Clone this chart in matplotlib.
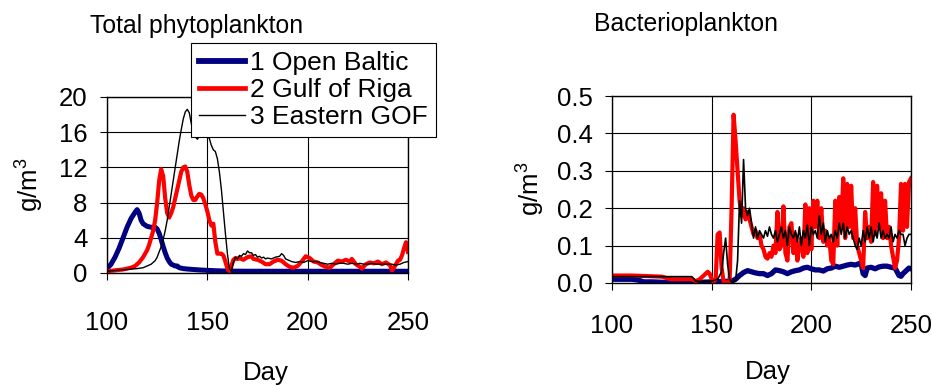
import numpy as np
import matplotlib
matplotlib.use("Agg")
import matplotlib.pyplot as plt

plt.rcParams['font.family'] = ['Liberation Sans', 'DejaVu Sans']
plt.rcParams['mathtext.fontset'] = 'custom'
plt.rcParams['mathtext.rm'] = 'Liberation Sans'
plt.rcParams['mathtext.it'] = 'Liberation Sans'

# --- Total phytoplankton (g/m3) ---
phy_baltic_day = [100, 102, 104, 106, 108, 110, 112, 114, 115, 116, 117, 118, 120, 122, 124, 125,
                  126, 127, 128, 129, 130, 131, 132, 134, 135, 136, 138, 140, 143, 146, 150, 155,
                  160, 170, 180, 200, 220, 250]
phy_baltic = [0.5, 1.0, 1.8, 2.8, 4.0, 5.2, 6.2, 6.9, 7.2, 6.8, 6.0, 5.6, 5.3, 5.2, 5.2, 5.0,
              4.5, 3.8, 3.0, 2.3, 1.7, 1.3, 1.0, 0.8, 0.8, 0.6, 0.5, 0.45, 0.4, 0.35, 0.3, 0.25,
              0.22, 0.2, 0.2, 0.2, 0.2, 0.2]

phy_riga_day = [100, 104, 108, 112, 114, 116, 118, 120, 121, 122, 123, 124, 125, 126, 127, 128,
                129, 130, 131, 132, 133, 134, 135, 136, 137, 138, 139, 140, 141, 142, 143, 144,
                145, 146, 147, 148, 149, 150, 151, 152, 153, 154, 155, 156, 157, 158, 159, 160,
                161, 162, 163, 164, 165, 166, 168, 170, 172, 173, 175, 177, 179, 181, 183, 185,
                187, 189, 191, 193, 195, 197, 199, 201, 203, 205, 207, 209, 211, 213, 215, 217,
                219, 221, 222, 224, 226, 227, 229, 231, 233, 235, 237, 239, 241, 242, 243, 245,
                246, 247, 248, 249, 250]
phy_riga = [0.2, 0.3, 0.4, 0.6, 0.8, 1.2, 1.8, 2.6, 3.2, 4.0, 4.8, 6.0, 8.0, 10.5, 11.8, 11.0,
            8.5, 6.8, 6.3, 6.8, 7.5, 8.5, 9.5, 10.5, 11.5, 12.0, 12.1, 11.5, 10.0, 8.8, 8.3, 8.3,
            8.7, 9.0, 8.9, 8.5, 7.8, 7.0, 6.0, 5.4, 5.6, 3.5, 2.2, 2.2, 2.2, 2.0, 1.3, 0.5,
            0.2, 0.8, 1.5, 1.7, 1.6, 1.7, 1.5, 1.8, 1.9, 1.6, 1.5, 1.3, 1.0, 1.0, 1.3, 1.5,
            1.4, 1.0, 0.7, 0.6, 0.8, 1.3, 1.9, 1.7, 1.3, 1.2, 0.9, 0.7, 0.6, 1.0, 1.4, 1.3,
            1.5, 1.3, 1.6, 1.0, 0.7, 0.5, 1.0, 1.2, 1.1, 1.3, 1.0, 1.2, 0.9, 0.3, 0.6, 1.4,
            1.5, 2.0, 2.8, 3.5, 2.4]

phy_gof_day = [100, 105, 110, 115, 118, 120, 122, 124, 125, 126, 127, 128, 129, 130, 131, 132,
               133, 134, 135, 136, 137, 138, 139, 140, 141, 142, 143, 144, 145, 146, 147, 148,
               149, 150, 151, 152, 153, 154, 155, 156, 157, 158, 159, 160, 161, 162, 163, 164,
               165, 166, 167, 168, 169, 170, 171, 172, 173, 174, 175, 176, 177, 178, 179, 180,
               182, 184, 186, 187, 188, 189, 190, 192, 194, 196, 198, 200, 202, 204, 206, 208,
               210, 212, 214, 216, 218, 220, 222, 224, 226, 228, 230, 232, 234, 236, 238, 240,
               242, 244, 246, 248, 250]
phy_gof = [0.2, 0.3, 0.4, 0.5, 0.6, 0.8, 1.0, 1.4, 1.8, 2.4, 3.0, 3.8, 4.8, 6.0, 7.5, 9.0,
           10.5, 12.0, 13.5, 15.0, 16.3, 17.5, 18.3, 18.6, 18.2, 17.0, 16.0, 15.5, 15.2, 15.5, 15.5, 15.5,
           15.7, 15.5, 15.3, 14.5, 14.0, 13.8, 13.0, 11.5, 9.5, 7.0, 4.5, 2.2, 0.5, 0.2, 1.2, 1.8,
           1.6, 2.0, 1.9, 2.2, 2.1, 2.5, 2.3, 2.3, 2.0, 2.1, 1.8, 1.9, 1.7, 1.8, 1.6, 1.7,
           1.6, 1.8, 1.9, 2.2, 2.0, 1.6, 1.5, 1.3, 1.2, 1.3, 1.2, 1.4, 1.3, 1.3, 1.2, 1.1,
           1.0, 1.1, 1.0, 1.1, 1.1, 1.0, 1.1, 1.0, 1.1, 1.0, 1.0, 1.1, 1.0, 1.0, 1.0, 1.0,
           1.0, 0.9, 1.0, 1.2, 1.3]

# --- Bacterioplankton (g/m3) ---
bac_baltic_day = [100, 105, 110, 113, 116, 120, 125, 128, 130, 135, 140, 145, 150, 155, 160, 162,
                  164, 166, 168, 170, 172, 174, 176, 178, 180, 182, 184, 186, 188, 190, 192, 194,
                  196, 198, 200, 202, 204, 206, 208, 210, 212, 214, 216, 218, 220, 222, 224, 225,
                  226, 227, 228, 230, 232, 234, 236, 238, 240, 242, 243, 244, 245, 246, 247, 248,
                  249, 250]
bac_baltic = [0.01, 0.01, 0.01, 0.008, 0.003, 0.003, 0.002, 0.001, 0.003, 0.002, 0.003, 0.002, 0.003, 0.004, 0.005, 0.01,
              0.02, 0.028, 0.033, 0.03, 0.027, 0.025, 0.025, 0.02, 0.025, 0.035, 0.033, 0.03, 0.025, 0.03, 0.033, 0.035,
              0.04, 0.042, 0.038, 0.035, 0.035, 0.032, 0.038, 0.04, 0.045, 0.042, 0.045, 0.048, 0.05, 0.048, 0.052, 0.05,
              0.025, 0.02, 0.04, 0.042, 0.038, 0.043, 0.045, 0.045, 0.042, 0.04, 0.03, 0.02, 0.018, 0.025, 0.03, 0.035,
              0.04, 0.038]

bac_riga_day = [100, 105, 110, 115, 120, 125, 128, 130, 135, 140, 142, 144, 146, 148] + list(range(149, 251))
bac_riga = [0.02, 0.02, 0.02, 0.019, 0.018, 0.017, 0.012, 0.01, 0.01, 0.01, 0.005, 0.01, 0.02, 0.03,
            0.025, 0.01, 0.002, 0.01, 0.13, 0.135, 0.04, 0.003, 0.0, 0.002, 0.003, 0.2,
            0.45, 0.38, 0.3, 0.22, 0.18, 0.2, 0.17, 0.19, 0.17, 0.15, 0.13, 0.14, 0.12, 0.13,
            0.1, 0.09, 0.07, 0.065, 0.08, 0.07, 0.1, 0.08, 0.19, 0.09, 0.1, 0.205, 0.08, 0.06,
            0.15, 0.16, 0.08, 0.13, 0.06, 0.1, 0.12, 0.07, 0.21, 0.08, 0.2, 0.09, 0.22, 0.15,
            0.22, 0.12, 0.2, 0.11, 0.14, 0.1, 0.12, 0.06, 0.05, 0.22, 0.1, 0.23, 0.15, 0.28,
            0.12, 0.265, 0.15, 0.26, 0.12, 0.2, 0.1, 0.08, 0.06, 0.04, 0.19, 0.12, 0.15, 0.11,
            0.27, 0.13, 0.26, 0.15, 0.24, 0.12, 0.22, 0.12, 0.15, 0.1, 0.07, 0.04, 0.06, 0.12,
            0.265, 0.14, 0.265, 0.15, 0.27, 0.28]

bac_gof_day = [100, 110, 120, 130, 140, 141, 142, 145, 150, 153] + list(range(155, 251))
bac_gof = [0.017, 0.017, 0.017, 0.017, 0.017, 0.012, 0.005, 0.004, 0.005, 0.01,
           0.03, 0.08, 0.12, 0.05, 0.01, 0.003, 0.003, 0.005, 0.06, 0.22, 0.16, 0.33,
           0.2, 0.18, 0.2, 0.16, 0.12, 0.15, 0.12, 0.14, 0.13, 0.12, 0.14, 0.125, 0.15, 0.13,
           0.12, 0.14, 0.11, 0.13, 0.15, 0.12, 0.14, 0.1, 0.15, 0.13, 0.12, 0.14, 0.11, 0.15,
           0.1, 0.14, 0.12, 0.155, 0.1, 0.15, 0.13, 0.14, 0.12, 0.18, 0.13, 0.16, 0.11, 0.14,
           0.12, 0.13, 0.11, 0.14, 0.12, 0.16, 0.13, 0.16, 0.12, 0.15, 0.13, 0.14, 0.12, 0.1,
           0.09, 0.12, 0.1, 0.14, 0.11, 0.15, 0.12, 0.15, 0.11, 0.14, 0.12, 0.16, 0.12, 0.14,
           0.12, 0.13, 0.12, 0.15, 0.11, 0.13, 0.12, 0.14, 0.13, 0.13, 0.1, 0.12, 0.13, 0.13]

labels = ['1 Open Baltic', '2 Gulf of Riga', '3 Eastern GOF']
colors = ['#000080', '#ff0000', '#000000']
widths = [3.6, 3.0, 1.0]

W, H = 932, 385
fig = plt.figure(figsize=(W / 100, H / 100), dpi=100)

def px_axes(x0, x1, ytop, ybot):
    return fig.add_axes([x0 / W, 1 - ybot / H, (x1 - x0) / W, (ybot - ytop) / H])

ax1 = px_axes(107, 408, 97, 273)
ax2 = px_axes(612, 911, 96, 283)

def style(ax, yticks, yfmt, xpad):
    ax.set_xlim(100, 250)
    ax.set_xticks([100, 150, 200, 250])
    ax.set_ylim(yticks[0], yticks[-1])
    ax.set_yticks(yticks)
    ax.set_yticklabels([yfmt.format(v) for v in yticks])
    ax.grid(True, color='black', linewidth=0.8)
    ax.tick_params(axis='both', direction='out', length=5, width=0.8, labelsize=18.5, colors='black')
    ax.tick_params(axis='x', pad=xpad)
    ax.tick_params(axis='y', pad=9)
    for s in ax.spines.values():
        s.set_linewidth(1.0)
        s.set_color('black')
    ax.set_axisbelow(True)

lines = []
for d, v, c, lw in zip([phy_baltic_day, phy_riga_day, phy_gof_day],
                       [phy_baltic, phy_riga, phy_gof], colors, widths):
    ln, = ax1.plot(d, v, color=c, linewidth=lw, solid_joinstyle='round')
    lines.append(ln)
for d, v, c, lw in zip([bac_baltic_day, bac_riga_day, bac_gof_day],
                       [bac_baltic, bac_riga, bac_gof], colors, [3.8, 3.0, 1.2]):
    ax2.plot(d, v, color=c, linewidth=lw, solid_joinstyle='round')

style(ax1, [0, 4, 8, 12, 16, 20], '{:g}', 22)
style(ax2, [0.0, 0.1, 0.2, 0.3, 0.4, 0.5], '{:.1f}', 17)

fig.text(90 / W, 1 - 33 / H, 'Total phytoplankton', fontsize=17.8, va='baseline', ha='left')
fig.text(594 / W, 1 - 31 / H, 'Bacterioplankton', fontsize=17.8, va='baseline', ha='left')
fig.text(266 / W, 1 - 380 / H, 'Day', fontsize=18.5, va='baseline', ha='center')
fig.text(768 / W, 1 - 379 / H, 'Day', fontsize=18.5, va='baseline', ha='center')
fig.text(30 / W, 1 - 185 / H, 'g/m$^3$', fontsize=18.5, rotation=90, va='center', ha='center')
fig.text(531 / W, 1 - 189 / H, 'g/m$^3$', fontsize=18.5, rotation=90, va='center', ha='center')

leg = fig.legend(lines, labels, loc='upper left', bbox_to_anchor=(191 / W, 1 - 43 / H),
                 bbox_transform=fig.transFigure, fontsize=19, frameon=True, fancybox=False,
                 framealpha=1, edgecolor='black', handlelength=1.75, handletextpad=0.2,
                 labelspacing=0.12, borderpad=0.3, borderaxespad=0)
leg.get_frame().set_linewidth(0.8)
for h, lw in zip(leg.get_lines(), [4.2, 3.4, 1.0]):
    h.set_linewidth(lw)

fig.savefig('out.png', dpi=100)
